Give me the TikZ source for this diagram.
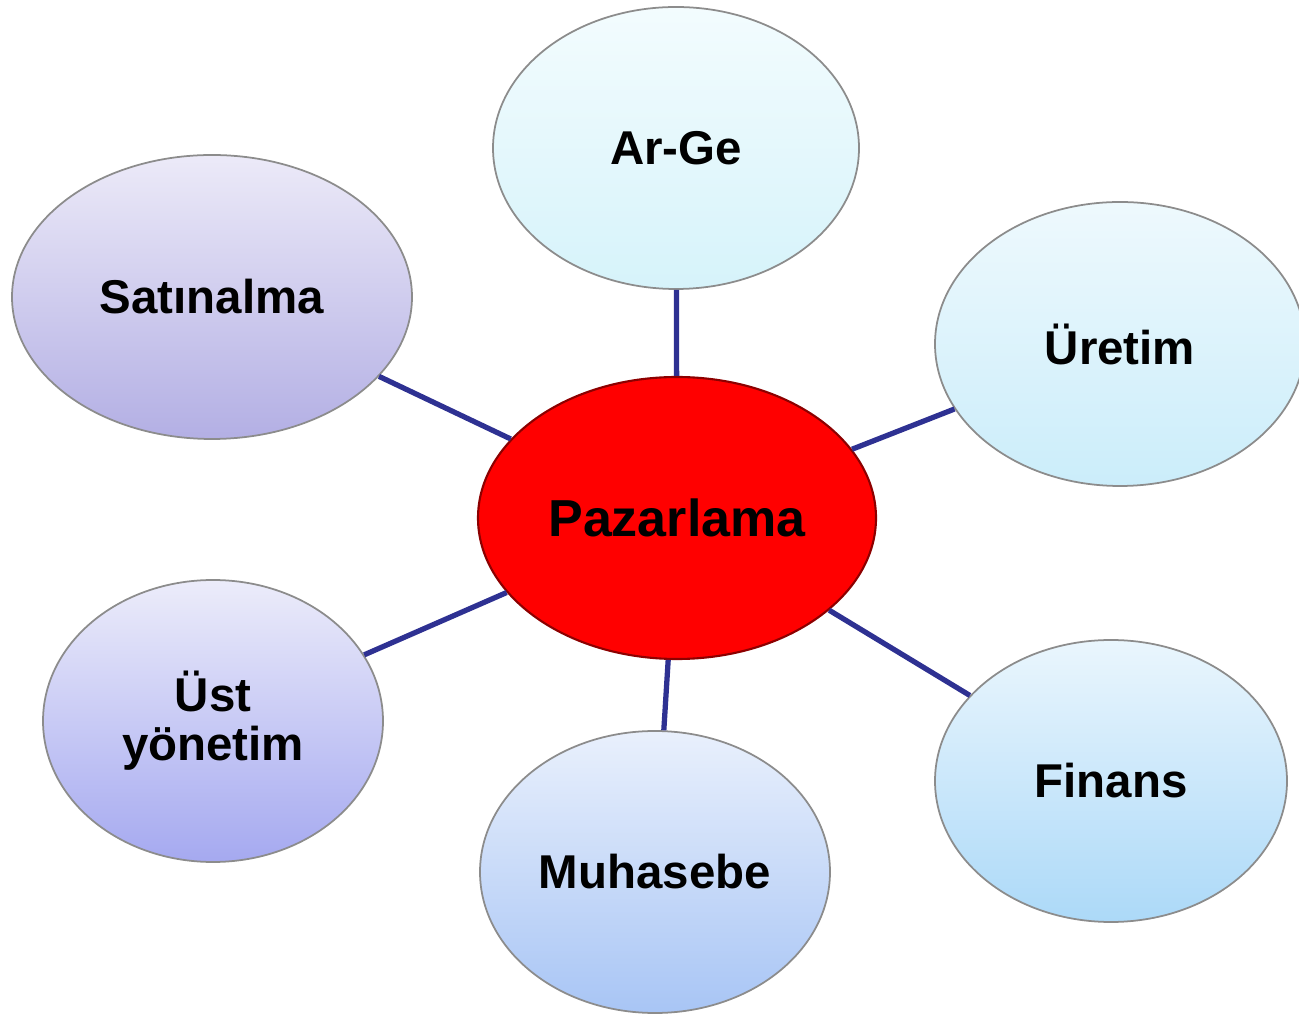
\documentclass[tikz,border=0pt]{standalone}
\usepackage{fontspec}
\setmainfont{Liberation Sans}
\usetikzlibrary{
  shapes.geometric,
}
\definecolor{linkblue}{HTML}{2E3192}
\definecolor{rimgray}{HTML}{8C8C8C}
\definecolor{argetop}{HTML}{F3FCFE}
\definecolor{argebot}{HTML}{D6F3FA}
\definecolor{satintop}{HTML}{ECEAF8}
\definecolor{satinbot}{HTML}{B3AFE4}
\definecolor{uretimtop}{HTML}{EEF9FD}
\definecolor{uretimbot}{HTML}{CBEDFA}
\definecolor{usttop}{HTML}{ECECFA}
\definecolor{ustbot}{HTML}{A5A9F0}
\definecolor{muhtop}{HTML}{E9F0FC}
\definecolor{muhbot}{HTML}{A8C5F5}
\definecolor{finanstop}{HTML}{EAF6FD}
\definecolor{finansbot}{HTML}{ACD9F8}
\tikzset{
  bubble/.style={ellipse, draw=rimgray, line width=0.5pt, inner sep=0pt,
    shading=axis, font=\fontsize{13.5}{14}\selectfont\bfseries, align=center},
  hub/.style={ellipse, draw=red!55!black, line width=0.6pt, fill=red, inner sep=0pt,
    minimum width=3.98cm, minimum height=2.82cm,
    font=\fontsize{14.8}{16}\selectfont\bfseries},
  link/.style={draw=linkblue, line width=1.5pt},
}

\begin{document}
\begin{tikzpicture}
      \useasboundingbox (0,0) rectangle (12.99,10.13);
      \node [hub] (pazarlama) at (6.77,4.95) {Pazarlama};
      \node [bubble, minimum width=3.66cm, minimum height=2.82cm,
        top color=argetop, bottom color=argebot] (arge) at (6.76,8.65) {Ar-Ge};
      \node [bubble, minimum width=4.00cm, minimum height=2.84cm,
        top color=satintop, bottom color=satinbot] (satinalma) at (2.12,7.16) {Sat\i nalma};
      \node [bubble, minimum width=3.70cm, minimum height=2.84cm,
        top color=uretimtop, bottom color=uretimbot] (uretim) at (11.20,6.69) {Üretim};
      \node [bubble, minimum width=3.40cm, minimum height=2.82cm,
        top color=usttop, bottom color=ustbot] (ust) at (2.13,2.92) {Üst\\yönetim};
      \node [bubble, minimum width=3.50cm, minimum height=2.82cm,
        top color=muhtop, bottom color=muhbot] (muhasebe) at (6.55,1.41) {Muhasebe};
      \node [bubble, minimum width=3.52cm, minimum height=2.82cm,
        top color=finanstop, bottom color=finansbot] (finans) at (11.11,2.32) {Finans};
      \draw [link] (arge) -- (pazarlama);
      \draw [link] (satinalma) -- (pazarlama);
      \draw [link] (uretim) -- (pazarlama);
      \draw [link] (ust) -- (pazarlama);
      \draw [link] (muhasebe) -- (pazarlama);
      \draw [link] (finans) -- (pazarlama);
    \end{tikzpicture}
\end{document}
